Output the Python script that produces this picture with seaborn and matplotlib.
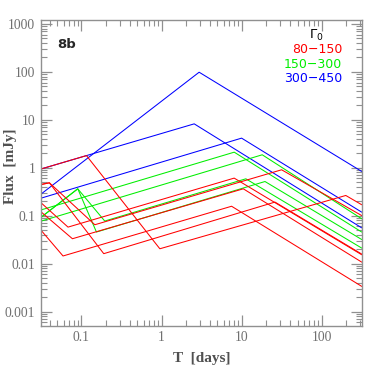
import matplotlib
matplotlib.use("Agg")
import matplotlib.pyplot as plt
import matplotlib.ticker as mticker
import pandas as pd
import seaborn as sns

# broken power-law light curves (T in days, flux in mJy)
# red: Gamma_0 = 80-150
r1_t = [0.0316, 0.1155, 0.953, 200, 316]
r1_f = [0.95, 1.80, 0.0205, 0.265, 0.17]
r2_t = [0.0316, 0.0398, 0.19, 26.1, 316]
r2_f = [0.45, 0.487, 0.0162, 0.193, 0.0159]
r3_t = [0.0316, 0.0589, 7.5, 316]
r3_f = [0.049, 0.0145, 0.158, 0.00337]
r4_t = [0.0316, 0.0398, 0.147, 31.6, 316]
r4_f = [0.45, 0.487, 0.065, 0.91, 0.101]
r5_t = [0.0316, 0.068, 8.08, 316]
r5_f = [0.184, 0.058, 0.61, 0.0154]
r6_t = [0.0316, 0.0772, 10.5, 316]
r6_f = [0.119, 0.0332, 0.365, 0.0108]

# green: Gamma_0 = 150-300
g1_t = [0.0316, 8.09, 316]
g1_f = [0.133, 2.12, 0.0458]
g2_t = [0.0316, 18.1, 316]
g2_f = [0.0776, 1.87, 0.0866]
g3_t = [0.0316, 0.09, 0.154, 19.6, 316]
g3_f = [0.094, 0.365, 0.0458, 0.518, 0.032]
g4_t = [0.0316, 0.09, 0.1955, 11.3, 316]
g4_f = [0.094, 0.365, 0.0776, 0.59, 0.0212]

# blue: Gamma_0 = 300-450
b1_t = [0.0316, 2.95, 316]
b1_f = [0.287, 98.6, 0.84]
b2_t = [0.0316, 2.56, 316]
b2_f = [0.95, 8.26, 0.056]
b3_t = [0.0316, 10.0, 316]
b3_f = [0.234, 4.16, 0.119]

groups = ["80\u2212150", "150\u2212300", "300\u2212450"]
colors = ["#ff0000", "#00ee00", "#0000ff"]

curves = [
    ("r1", groups[0], r1_t, r1_f), ("r2", groups[0], r2_t, r2_f),
    ("r3", groups[0], r3_t, r3_f), ("r4", groups[0], r4_t, r4_f),
    ("r5", groups[0], r5_t, r5_f), ("r6", groups[0], r6_t, r6_f),
    ("g1", groups[1], g1_t, g1_f), ("g2", groups[1], g2_t, g2_f),
    ("g3", groups[1], g3_t, g3_f), ("g4", groups[1], g4_t, g4_f),
    ("b1", groups[2], b1_t, b1_f), ("b2", groups[2], b2_t, b2_f),
    ("b3", groups[2], b3_t, b3_f),
]

rows = []
for name, grp, ts, fs in curves:
    for i, (t, f) in enumerate(zip(ts, fs)):
        rows.append({"curve": name, "gamma": grp, "order": i, "T": t, "F": f})
df = pd.DataFrame(rows)

sns.set_style("ticks")
plt.rcParams["font.family"] = ["Liberation Serif", "DejaVu Serif"]

fig = plt.figure(figsize=(3.82, 3.65), dpi=100)
ax = fig.add_axes([0.1073, 0.1077, 0.8396, 0.8375])

# blue first so the red curves end up on top
sns.lineplot(data=df, x="T", y="F", hue="gamma", units="curve", estimator=None,
             sort=False, palette=dict(zip(groups, colors)), hue_order=groups[::-1],
             linewidth=0.75, legend=False, ax=ax)

ax.set_xscale("log")
ax.set_yscale("log")
ax.set_xlim(10 ** -1.505, 10 ** 2.5)
ax.set_ylim(5.1e-4, 1.21e3)

frame = "#909090"
for sp in ax.spines.values():
    sp.set_color(frame)
    sp.set_linewidth(1.0)

ax.xaxis.set_major_locator(mticker.FixedLocator([0.1, 1, 10, 100]))
ax.xaxis.set_major_formatter(mticker.FixedFormatter(["0.1", "1", "10", "100"]))
ax.xaxis.set_minor_locator(mticker.LogLocator(base=10, subs=range(2, 10)))
ax.yaxis.set_major_locator(mticker.FixedLocator([0.001, 0.01, 0.1, 1, 10, 100, 1000]))
ax.yaxis.set_major_formatter(mticker.FixedFormatter(
    ["0.001", "0.01", "0.1", "1", "10", "100", "1000"]))
ax.yaxis.set_minor_locator(mticker.LogLocator(base=10, subs=range(2, 10)))
ax.xaxis.set_minor_formatter(mticker.NullFormatter())
ax.yaxis.set_minor_formatter(mticker.NullFormatter())

ax.tick_params(which="both", direction="in", top=True, right=True, color=frame,
               labelcolor="#707070", labelsize=9.8, pad=4)
ax.tick_params(which="major", length=8, width=0.9)
ax.tick_params(which="minor", length=4, width=0.8)

ax.set_xlabel("T  [days]", fontsize=11, fontweight="bold", color="#505050")
ax.xaxis.set_label_coords(0.5, -0.085)
ax.set_ylabel("Flux  [mJy]", fontsize=11, fontweight="bold", color="#505050")
ax.yaxis.set_label_coords(-0.075, 0.52)

ax.text(0.052, 0.92, "8b", transform=ax.transAxes, fontsize=9.5, fontweight="bold",
        family="DejaVu Sans", ha="left", va="center")
ax.text(0.86, 0.95, r"$\Gamma_0$", transform=ax.transAxes, fontsize=9.5,
        ha="center", va="center", color="black")
for k, (g, c) in enumerate(zip(groups, colors)):
    ax.text(0.9386, 0.902 - 0.046 * k, g, transform=ax.transAxes, fontsize=9,
            family="DejaVu Sans", ha="right", va="center", color=c)

fig.savefig("out.png", dpi=100)
